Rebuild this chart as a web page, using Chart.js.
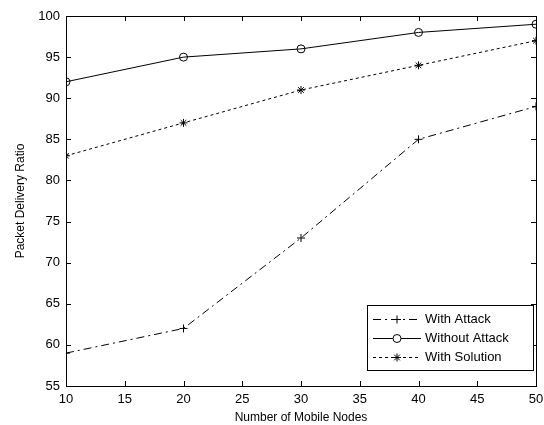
<!DOCTYPE html>
<html>
<head>
<meta charset="utf-8">
<script src="https://cdn.jsdelivr.net/npm/chart.js@4"></script>
<style>
  html, body { margin: 0; padding: 0; background: #fff; }
  #wrap { width: 544px; height: 425px; }
</style>
</head>
<body>
<div id="wrap"><canvas id="pdr"></canvas></div>
<script>
const nodes = [10, 20, 30, 40, 50];
const withAttack = [59, 62, 73, 85, 89];
const withoutAttack = [92, 95, 96, 98, 99];
const withSolution = [83, 87, 91, 94, 97];
const seriesNames = ['With Attack', 'Without Attack', 'With Solution'];

const toPoints = vals => vals.map((v, i) => ({ x: nodes[i], y: v }));

const FONT = 'Liberation Sans, Arial, sans-serif';

// MATLAB style: inward ticks on all four sides plus a box
const boxTicks = {
  id: 'boxTicks',
  afterDraw(chart) {
    const { ctx, chartArea: a, scales } = chart;
    const len = 5;
    ctx.save();
    ctx.strokeStyle = '#000';
    ctx.lineWidth = 1;
    ctx.beginPath();
    scales.x.ticks.forEach(t => {
      const px = Math.round(scales.x.getPixelForValue(t.value)) + 0.5;
      ctx.moveTo(px, a.bottom); ctx.lineTo(px, a.bottom - len);
      ctx.moveTo(px, a.top); ctx.lineTo(px, a.top + len);
    });
    scales.y.ticks.forEach(t => {
      const py = Math.round(scales.y.getPixelForValue(t.value)) + 0.5;
      ctx.moveTo(a.left, py); ctx.lineTo(a.left + len, py);
      ctx.moveTo(a.right, py); ctx.lineTo(a.right - len, py);
    });
    ctx.stroke();
    ctx.strokeRect(Math.round(a.left) + 0.5, Math.round(a.top) + 0.5,
      Math.round(a.right - a.left), Math.round(a.bottom - a.top));
    ctx.restore();
  }
};

// legend box in the lower right, line sample with marker in the middle
const boxLegend = {
  id: 'boxLegend',
  afterDraw(chart) {
    const { ctx, chartArea: a } = chart;
    const w = 166, h = 65;
    const x0 = a.right - 3 - w, y0 = a.bottom - 16 - h;
    ctx.save();
    ctx.fillStyle = '#fff';
    ctx.fillRect(x0, y0, w, h);
    ctx.strokeStyle = '#000';
    ctx.lineWidth = 1;
    ctx.strokeRect(Math.round(x0) + 0.5, Math.round(y0) + 0.5, w, h);
    ctx.font = '13px ' + FONT;
    ctx.textBaseline = 'middle';
    chart.data.datasets.forEach((ds, i) => {
      const cy = Math.round(y0 + 14 + i * 19) + 0.5;
      ctx.setLineDash(ds.borderDash || []);
      ctx.beginPath();
      ctx.moveTo(x0 + 6, cy);
      ctx.lineTo(x0 + 54, cy);
      ctx.stroke();
      ctx.setLineDash([]);
      ctx.fillStyle = '#fff';
      Chart.helpers.drawPoint(ctx, {
        pointStyle: ds.pointStyle, radius: ds.pointRadius, borderWidth: 1
      }, x0 + 30, cy);
      ctx.fillStyle = '#000';
      ctx.fillText(ds.label, x0 + 58, cy);
    });
    ctx.restore();
  }
};

const lineStyle = (label, vals, dash, marker) => ({
  label: label,
  data: toPoints(vals),
  borderColor: '#000',
  backgroundColor: '#fff',
  borderWidth: 1,
  borderDash: dash,
  pointStyle: marker,
  pointRadius: 4,
  pointBorderColor: '#000',
  pointBackgroundColor: 'rgba(0,0,0,0)',
  pointBorderWidth: 1,
  tension: 0
});

const config = {
  type: 'line',
  data: {
    datasets: [
      lineStyle(seriesNames[0], withAttack, [8, 4, 2, 4], 'cross'),
      lineStyle(seriesNames[1], withoutAttack, [], 'circle'),
      lineStyle(seriesNames[2], withSolution, [3, 3], 'star')
    ]
  },
  options: {
    responsive: true,
    maintainAspectRatio: false,
    animation: false,
    layout: { padding: { left: 0, right: 0, top: 16, bottom: 0 } },
    plugins: {
      legend: { display: false },
      tooltip: { enabled: false }
    },
    scales: {
      x: {
        type: 'linear',
        min: 10, max: 50,
        afterFit(s) { s.height = 39; s.paddingRight = 8; s.paddingLeft = 0; },
        grid: { display: false, drawTicks: false },
        border: { display: false },
        ticks: { stepSize: 5, color: '#000', padding: 6, font: { family: FONT, size: 13 } },
        title: { display: true, text: 'Number of Mobile Nodes', color: '#000', padding: { top: 2, bottom: 0 }, font: { family: FONT, size: 12 } }
      },
      y: {
        min: 55, max: 100,
        afterFit(s) { s.width = 66; },
        grid: { display: false, drawTicks: false },
        border: { display: false },
        ticks: { stepSize: 5, color: '#000', padding: 6, font: { family: FONT, size: 13 } },
        title: { display: true, text: 'Packet Delivery Ratio', color: '#000', padding: { top: 13, bottom: 0 }, font: { family: FONT, size: 12 } }
      }
    }
  },
  plugins: [boxTicks, boxLegend]
};

new Chart(document.getElementById('pdr'), config);
</script>
</body>
</html>
